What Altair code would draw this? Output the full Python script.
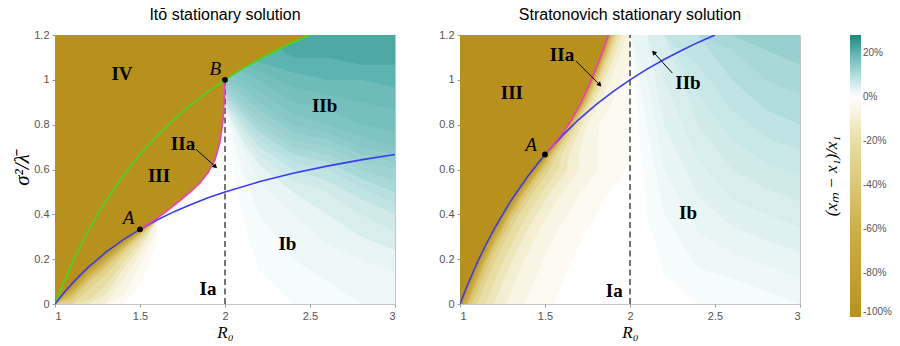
import math
import altair as alt
import pandas as pd

# ---------------------------------------------------------------- shading
# Filled iso-bands of the relative deviation (%), each given as the lower
# edge of the region where the value is at least the band level.

# Itō, teal side (R0 > 2)
ITO_TEAL_X = [2.0, 2.1, 2.2, 2.4, 2.6, 2.8, 3.0]
ITO_TEAL_LEVELS = [1, 2, 3, 5, 6, 8, 9, 11, 12, 13, 14, 15, 16, 17, 18, 20, 22]
ITO_TEAL_Y = [
    [0.86, 0.40, 0.15, 0.0, 0.0, 0.0, 0.0],
    [0.87, 0.60, 0.40, 0.20, 0.10, 0.0, 0.0],
    [0.875, 0.70, 0.55, 0.40, 0.267, 0.20, 0.133],
    [0.88, 0.733, 0.62, 0.50, 0.40, 0.30, 0.24],
    [0.89, 0.767, 0.66, 0.55, 0.50, 0.40, 0.32],
    [0.90, 0.80, 0.70, 0.60, 0.55, 0.467, 0.40],
    [0.917, 0.825, 0.733, 0.633, 0.60, 0.52, 0.45],
    [0.933, 0.85, 0.767, 0.667, 0.633, 0.56, 0.50],
    [0.95, 0.875, 0.80, 0.70, 0.667, 0.60, 0.55],
    [0.967, 0.90, 0.833, 0.733, 0.70, 0.633, 0.60],
    [0.983, 0.933, 0.867, 0.767, 0.733, 0.667, 0.633],
    [1.0, 0.967, 0.90, 0.80, 0.767, 0.70, 0.667],
    [1.033, 1.0, 0.95, 0.85, 0.80, 0.75, 0.70],
    [1.067, 1.033, 1.0, 0.90, 0.867, 0.80, 0.767],
    [1.10, 1.067, 1.04, 0.967, 0.933, 0.90, 0.867],
    [1.15, 1.10, 1.08, 1.033, 1.0, 1.0, 0.967],
    [1.2, 1.2, 1.2, 1.10, 1.10, 1.067, 1.067],
]

# Itō, gold fade under the lower boundary (R0 < 1.6)
ITO_FADE_X = [1.0, 1.1, 1.2, 1.3, 1.4, 1.5, 1.55, 1.6]
ITO_FADE_LEVELS = [-3, -6, -10, -15, -20, -30, -40, -50, -60, -70, -80, -90]
ITO_FADE_Y = [
    [0, 0, 0, 0, 0, 0.083, 0.175, 0.275],
    [0, 0, 0, 0, 0.036, 0.173, 0.255, 0.335],
    [0, 0, 0, 0, 0.106, 0.223, 0.295, 0.375],
    [0, 0, 0, 0.041, 0.156, 0.253, 0.315, 0.375],
    [0, 0, 0.017, 0.081, 0.186, 0.273, 0.325, 0.375],
    [0, 0, 0.067, 0.131, 0.216, 0.293, 0.335, 0.375],
    [0, 0.021, 0.097, 0.161, 0.236, 0.305, 0.341, 0.375],
    [0, 0.036, 0.112, 0.176, 0.246, 0.313, 0.345, 0.375],
    [0, 0.051, 0.127, 0.191, 0.256, 0.317, 0.347, 0.375],
    [0, 0.061, 0.137, 0.201, 0.264, 0.321, 0.349, 0.375],
    [0, 0.071, 0.147, 0.211, 0.271, 0.325, 0.351, 0.375],
    [0, 0.081, 0.157, 0.221, 0.278, 0.329, 0.353, 0.375],
]

# Stratonovich, teal side (R0 > 2)
STRAT_TEAL_X = [2.0, 2.1, 2.2, 2.4, 2.6, 2.8, 3.0]
STRAT_TEAL_LEVELS = [1, 2, 3, 4, 5, 6, 7, 8, 10, 11, 13]
STRAT_TEAL_Y = [
    [1.2, 0.40, 0.133, 0.0, 0.0, 0.0, 0.0],
    [1.2, 0.80, 0.40, 0.16, 0.114, 0.057, 0.0],
    [1.2, 1.0, 0.60, 0.32, 0.229, 0.171, 0.114],
    [1.2, 1.2, 0.80, 0.48, 0.343, 0.286, 0.229],
    [1.2, 1.2, 1.0, 0.64, 0.467, 0.40, 0.343],
    [1.2, 1.2, 1.2, 0.80, 0.60, 0.514, 0.457],
    [1.2, 1.2, 1.2, 0.933, 0.733, 0.629, 0.571],
    [1.2, 1.2, 1.2, 1.067, 0.867, 0.743, 0.686],
    [1.2, 1.2, 1.2, 1.2, 1.0, 0.867, 0.80],
    [1.2, 1.2, 1.2, 1.2, 1.133, 1.0, 0.933],
    [1.2, 1.2, 1.2, 1.2, 1.2, 1.133, 1.067],
]

# Stratonovich, gold fade to the right of the boundary (R0 < 2)
STRAT_FADE_S = [0, 0, 0.1, 0.2, 0.3, 0.4, 0.5, 0.6, 0.667, 0.8, 0.9, 1.0, 1.1, 1.2]
STRAT_FADE_LEVELS = [-3, -6, -10, -15, -20, -30, -40, -50, -60, -70, -80, -90]
STRAT_FADE_R0 = [
    [1.0, 1.55, 1.603, 1.661, 1.726, 1.80, 1.883, 1.979, 2.0],
    [1.0, 1.38, 1.433, 1.491, 1.556, 1.63, 1.713, 1.809, 1.81, 1.816, 1.892, 1.952, 2.0],
    [1.0, 1.27, 1.323, 1.381, 1.446, 1.52, 1.603, 1.699, 1.70, 1.746, 1.822, 1.882, 1.935, 1.982],
    [1.0, 1.20, 1.253, 1.311, 1.376, 1.45, 1.533, 1.629, 1.64, 1.716, 1.792, 1.852, 1.905, 1.952],
    [1.0, 1.15, 1.203, 1.261, 1.326, 1.40, 1.483, 1.579, 1.60, 1.696, 1.772, 1.832, 1.885, 1.932],
    [1.0, 1.10, 1.153, 1.211, 1.276, 1.35, 1.433, 1.529, 1.57, 1.681, 1.757, 1.817, 1.87, 1.917],
    [1.0, 1.07, 1.123, 1.181, 1.246, 1.32, 1.403, 1.499, 1.552, 1.671, 1.747, 1.807, 1.86, 1.907],
    [1.0, 1.05, 1.103, 1.161, 1.226, 1.30, 1.383, 1.479, 1.538, 1.661, 1.737, 1.797, 1.85, 1.897],
    [1.0, 1.04, 1.093, 1.151, 1.216, 1.29, 1.373, 1.469, 1.529, 1.654, 1.73, 1.79, 1.843, 1.89],
    [1.0, 1.03, 1.083, 1.141, 1.206, 1.28, 1.363, 1.459, 1.521, 1.648, 1.724, 1.784, 1.837, 1.884],
    [1.0, 1.02, 1.073, 1.131, 1.196, 1.27, 1.353, 1.449, 1.514, 1.644, 1.72, 1.78, 1.833, 1.88],
    [1.0, 1.01, 1.063, 1.121, 1.186, 1.26, 1.343, 1.439, 1.507, 1.64, 1.716, 1.776, 1.829, 1.876],
]
# the two lightest bands stop at the R0 = 2 line
STRAT_FADE_CUT = {-3: [0, 0, 0.1, 0.2, 0.3, 0.4, 0.5, 0.6, 0.63],
                  -6: [0, 0, 0.1, 0.2, 0.3, 0.4, 0.5, 0.6, 0.667, 0.8, 0.9, 1.0, 1.09]}

# ---------------------------------------------------------------- curves
ITO_BLUE_R0 = [1.0, 1.05, 1.1, 1.15, 1.2, 1.3, 1.4, 1.5, 1.6, 1.7, 1.8, 1.9,
               2.0, 2.2, 2.4, 2.6, 2.8, 3.0]
ITO_BLUE_S = [0.0, 0.048, 0.091, 0.13, 0.167, 0.231, 0.286, 0.333, 0.375,
              0.412, 0.444, 0.474, 0.5, 0.545, 0.583, 0.615, 0.643, 0.667]

ITO_GREEN_R0 = [1.0, 1.05, 1.1, 1.15, 1.2, 1.3, 1.4, 1.5, 1.6, 1.7, 1.8, 1.9,
                2.0, 2.1, 2.2, 2.3, 2.4, 2.5]
ITO_GREEN_S = [0.0, 0.095, 0.182, 0.261, 0.333, 0.462, 0.571, 0.667, 0.75,
               0.824, 0.889, 0.947, 1.0, 1.048, 1.091, 1.13, 1.167, 1.2]

ITO_PINK_R0 = [1.5, 1.55, 1.6, 1.65, 1.7, 1.75, 1.8, 1.85, 1.9, 1.94, 1.97, 1.99, 2.0]
ITO_PINK_S = [0.333, 0.357, 0.382, 0.41, 0.44, 0.47, 0.502, 0.538, 0.585,
              0.64, 0.72, 0.83, 1.0]

STRAT_BLUE_R0 = [1.0, 1.05, 1.1, 1.15, 1.2, 1.3, 1.4, 1.5, 1.6, 1.7, 1.8, 1.9,
                 2.0, 2.1, 2.2, 2.3, 2.4, 2.5]
STRAT_BLUE_S = [0.0, 0.095, 0.182, 0.261, 0.333, 0.462, 0.571, 0.667, 0.75,
                0.824, 0.889, 0.947, 1.0, 1.048, 1.091, 1.13, 1.167, 1.2]

STRAT_PINK_R0 = [1.5, 1.55, 1.6, 1.65, 1.7, 1.75, 1.8, 1.85, 1.872]
STRAT_PINK_S = [0.667, 0.71, 0.76, 0.815, 0.88, 0.96, 1.05, 1.15, 1.2]

# ---------------------------------------------------------------- annotations
ITO_DOTS = {"x": [1.5, 2.0], "y": [0.333, 1.0]}
STRAT_DOTS = {"x": [1.5], "y": [0.667]}

ITO_REGIONS = {"t": ["IV", "III", "IIa", "IIb", "Ib", "Ia"],
               "x": [1.394, 1.612, 1.753, 2.586, 2.367, 1.90],
               "y": [1.027, 0.571, 0.715, 0.883, 0.266, 0.066]}
ITO_POINTS = {"t": ["A", "B"], "x": [1.433, 1.943], "y": [0.382, 1.047]}

STRAT_REGIONS = {"t": ["III", "IIa", "IIb", "Ib", "Ia"],
                 "x": [1.305, 1.60, 2.341, 2.341, 1.907],
                 "y": [0.943, 1.11, 0.987, 0.407, 0.058]}
STRAT_POINTS = {"t": ["A"], "x": [1.418], "y": [0.709]}

ITO_ARROWS = {"x": [1.83], "y": [0.69], "x2": [1.94], "y2": [0.615]}
STRAT_ARROWS = {"x": [1.682, 2.249], "y": [1.084, 1.03],
                "x2": [1.819, 2.142], "y2": [0.98, 1.12]}

# ---------------------------------------------------------------- styling
W, H = 340, 269
GOLD_VALUE = -100
COLOR_DOMAIN = [-100, -60, -20, 0, 10, 20, 28]
COLOR_RANGE = ["#b8911c", "#cdb046", "#e8dea4", "#ffffff",
               "#b0dcdc", "#5cb4b0", "#1e877d"]
CSCALE = alt.Scale(domain=COLOR_DOMAIN, range=COLOR_RANGE, interpolate="rgb")

SANS = "Liberation Sans"
SERIF = "Liberation Serif"
BLUE, GREEN, PINK = "#3b3bf0", "#3fdc1e", "#f23cc4"

XS = alt.Scale(domain=[1, 3], nice=False, zero=False)
YS = alt.Scale(domain=[0, 1.2], nice=False, zero=True)


def x_axis():
    return alt.Axis(values=[1, 1.5, 2, 2.5, 3], labelExpr="format(datum.value, '~g')",
                    title="R₀", titleFont=SERIF, titleFontStyle="italic",
                    titleFontWeight="normal", titleFontSize=17, titlePadding=3,
                    grid=False)


def y_axis(show_title):
    kw = dict(values=[0, 0.2, 0.4, 0.6, 0.8, 1.0, 1.2],
              labelExpr="format(datum.value, '~g')", grid=False)
    if show_title:
        kw.update(title="σ²/λ̄", titleFont=SERIF, titleFontStyle="italic",
                  titleFontWeight="normal", titleFontSize=21, titlePadding=1)
    else:
        kw.update(title=None)
    return alt.Axis(**kw)


def no_legend_color():
    return alt.Color("v:Q", scale=CSCALE, legend=None)


def band(xs, ys, level, X, Y):
    df = pd.DataFrame({"x": xs, "y": ys, "y2": [1.2] * len(xs), "v": [level] * len(xs)})
    return alt.Chart(df).mark_area(interpolate="linear", clip=True).encode(
        x=X, y=Y, y2="y2:Q", color=no_legend_color())


def gold_boundary(segments):
    xs, ys = [], []
    for sx, sy in segments:
        for a, b in zip(sx, sy):
            if xs and a <= xs[-1]:
                continue
            xs.append(a)
            ys.append(b)
    return pd.DataFrame({"x": xs, "y": ys, "y2": [1.2] * len(xs),
                         "v": [GOLD_VALUE] * len(xs)})


def panel(bands, boundary, lines, dots, regions, points, arrows, dash_top,
          title, show_ytitle):
    X = alt.X("x:Q", scale=XS, axis=x_axis())
    Y = alt.Y("y:Q", scale=YS, axis=y_axis(show_ytitle))

    base = alt.Chart(pd.DataFrame({"x": [1.0], "x2": [3.0], "y": [0.0], "y2": [1.2],
                                   "v": [0]})).mark_rect().encode(
        x=X, x2="x2:Q", y=Y, y2="y2:Q",
        color=alt.Color("v:Q", scale=CSCALE, legend=alt.Legend(
            type="gradient", title="(xₘ − x₁)/x₁", titleOrient="left",
            titleAnchor="middle", titleFont=SERIF, titleFontStyle="italic",
            titleFontWeight="normal", titleFontSize=17, titlePadding=8,
            titleColor="black", values=[-100, -80, -60, -40, -20, 0, 20],
            labelExpr="datum.value + '%'", labelFont=SANS, labelFontSize=10,
            labelColor="#555", gradientLength=282, gradientThickness=11,
            gradientStrokeWidth=0, offset=22, direction="vertical")),
    )
    layers = [base]
    for xs, ys, level in bands:
        layers.append(band(xs, ys, level, X, Y))

    layers.append(alt.Chart(boundary).mark_area(clip=True, interpolate="linear").encode(
        x=X, y=Y, y2="y2:Q", color=no_legend_color()))

    layers.append(alt.Chart(pd.DataFrame({"x": [2.0], "y": [0.0], "y2": [dash_top]})).mark_rule(
        color="#3a3a3a", strokeDash=[6, 3.5], strokeWidth=1.4).encode(x=X, y=Y, y2="y2:Q"))

    for (xs, ys, col) in lines:
        df = pd.DataFrame({"x": xs, "y": ys, "i": list(range(len(xs)))})
        layers.append(alt.Chart(df).mark_line(color=col, strokeWidth=1.6, clip=True).encode(
            x=X, y=Y, order="i:Q"))

    layers.append(alt.Chart(pd.DataFrame(arrows)).mark_rule(color="black", strokeWidth=1).encode(
        x=X, y=Y, x2="x2:Q", y2="y2:Q"))
    angles = []
    for x0, y0, x1, y1 in zip(arrows["x"], arrows["y"], arrows["x2"], arrows["y2"]):
        dxp = (x1 - x0) * W / 2.0
        dyp = (y1 - y0) * H / 1.2
        angles.append(math.degrees(math.atan2(dxp, dyp)) % 360)
    head = pd.DataFrame({"x": arrows["x2"], "y": arrows["y2"], "a": angles})
    layers.append(alt.Chart(head).mark_point(shape="triangle", filled=True, size=28,
                                             color="black", opacity=1).encode(
        x=X, y=Y, angle=alt.Angle("a:Q", scale=None)))

    layers.append(alt.Chart(pd.DataFrame(dots)).mark_circle(
        color="black", size=34, opacity=1).encode(x=X, y=Y))

    layers.append(alt.Chart(pd.DataFrame(regions)).mark_text(
        font=SERIF, fontWeight="bold", fontSize=19, color="black",
        baseline="middle", align="center").encode(x=X, y=Y, text="t:N"))
    layers.append(alt.Chart(pd.DataFrame(points)).mark_text(
        font=SERIF, fontStyle="italic", fontSize=19, color="black",
        baseline="middle", align="center").encode(x=X, y=Y, text="t:N"))

    return alt.layer(*layers).properties(
        width=W, height=H,
        title=alt.TitleParams(title, font=SANS, fontSize=16, fontWeight="normal",
                              color="black", offset=6, anchor="middle"))


ito_bands = [(ITO_TEAL_X, ys, lv) for lv, ys in zip(ITO_TEAL_LEVELS, ITO_TEAL_Y)]
ito_bands += [(ITO_FADE_X, ys, lv) for lv, ys in zip(ITO_FADE_LEVELS, ITO_FADE_Y)]

strat_bands = [(STRAT_TEAL_X, ys, lv) for lv, ys in zip(STRAT_TEAL_LEVELS, STRAT_TEAL_Y)]
for lv, xs in zip(STRAT_FADE_LEVELS, STRAT_FADE_R0):
    strat_bands.append((xs, STRAT_FADE_CUT.get(lv, STRAT_FADE_S), lv))

ito = panel(
    ito_bands,
    gold_boundary([(ITO_BLUE_R0[:8], ITO_BLUE_S[:8]), (ITO_PINK_R0, ITO_PINK_S),
                   (ITO_GREEN_R0[12:], ITO_GREEN_S[12:])]),
    [(ITO_GREEN_R0, ITO_GREEN_S, GREEN), (ITO_BLUE_R0, ITO_BLUE_S, BLUE),
     (ITO_PINK_R0, ITO_PINK_S, PINK)],
    ITO_DOTS, ITO_REGIONS, ITO_POINTS, ITO_ARROWS, 1.0,
    "Itō stationary solution", True)

strat = panel(
    strat_bands,
    gold_boundary([(STRAT_BLUE_R0[:8], STRAT_BLUE_S[:8]), (STRAT_PINK_R0, STRAT_PINK_S)]),
    [(STRAT_BLUE_R0, STRAT_BLUE_S, BLUE), (STRAT_PINK_R0, STRAT_PINK_S, PINK)],
    STRAT_DOTS, STRAT_REGIONS, STRAT_POINTS, STRAT_ARROWS, 1.2,
    "Stratonovich stationary solution", False)

chart = alt.hconcat(ito, strat, spacing=42).resolve_scale(color="shared").properties(
    padding={"left": 11, "top": 6, "right": 4, "bottom": 2}
).configure_view(stroke="#c4c4c4", strokeWidth=1).configure_axis(
    labelFont=SANS, labelFontSize=11, labelColor="#555", tickColor="#999",
    tickSize=3, domain=False, labelPadding=3,
)

chart.save("out.html", embed_options={"renderer": "svg", "actions": False})
